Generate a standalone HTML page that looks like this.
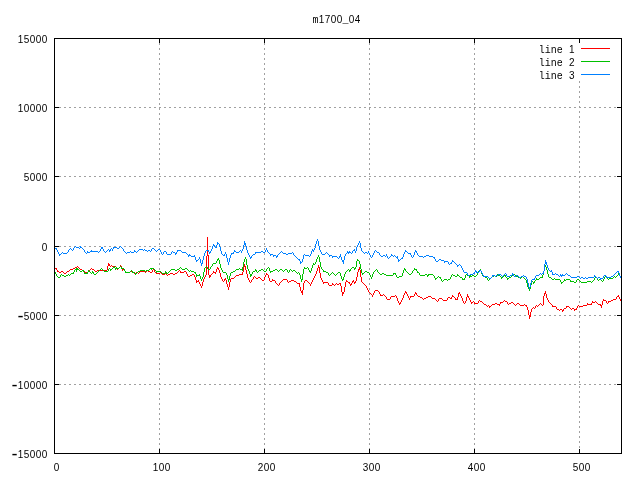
<!DOCTYPE html>
<html lang="en"><head><meta charset="utf-8"><title>m1700_04</title>
<style>html,body{margin:0;padding:0;background:#fff;overflow:hidden}svg{display:block}text{font-family:"Liberation Sans","DejaVu Sans",sans-serif;font-size:10.0px;fill:#000}.m{font-family:"Liberation Mono","DejaVu Sans Mono",monospace}.h{font-family:"Liberation Mono","DejaVu Sans Mono",monospace;font-size:16.0px}</style></head><body>
<svg width="640" height="480" viewBox="0 0 640 480">
<rect width="640" height="480" fill="#fff"/>
<g shape-rendering="crispEdges" stroke="#a0a0a0" stroke-width="1" stroke-dasharray="2 3" fill="none"><path d="M59 107.5H617"/><path d="M59 176.5H617"/><path d="M59 246.5H617"/><path d="M59 315.5H617"/><path d="M59 384.5H617"/><path d="M159.5 43V450"/><path d="M264.5 43V450"/><path d="M369.5 43V450"/><path d="M474.5 43V450"/><path d="M579.5 81V450"/></g>
<g shape-rendering="crispEdges" stroke-width="1" fill="none">
<path stroke="#ff0000" d="M56.5 268v2M57.5 270v2M107.5 266v4M108.5 263v3M109.5 264v2M116.5 267v2M120.5 265v2M121.5 266v3M122.5 269v2M124.5 269v2M125.5 271v2M152.5 270v2M154.5 270v2M165.5 272v2M166.5 273v2M180.5 271v2M186.5 272v2M187.5 274v2M194.5 275v2M195.5 277v3M196.5 280v3M198.5 280v2M199.5 282v2M200.5 284v2M201.5 286v2M202.5 282v4M203.5 279v3M204.5 277v2M205.5 275v2M206.5 256v19M207.5 237v19M208.5 255v20M209.5 275v3M210.5 275v2M213.5 271v2M215.5 272v2M216.5 269v3M217.5 267v2M218.5 268v2M219.5 270v3M220.5 273v4M221.5 277v2M222.5 279v2M224.5 279v2M225.5 278v2M226.5 280v4M227.5 284v3M228.5 287v3M229.5 282v5M230.5 279v3M242.5 272v3M243.5 267v5M244.5 264v3M245.5 266v4M246.5 270v4M247.5 274v4M248.5 278v2M249.5 280v2M251.5 280v2M253.5 277v2M264.5 277v3M265.5 275v2M266.5 273v2M268.5 275v3M269.5 278v3M272.5 279v2M275.5 281v2M279.5 283v2M287.5 280v2M299.5 283v4M300.5 287v4M301.5 291v2M302.5 290v5M303.5 283v7M304.5 281v2M310.5 284v2M311.5 282v2M312.5 280v2M313.5 278v2M314.5 276v2M315.5 274v2M316.5 271v3M317.5 268v3M318.5 265v3M319.5 267v6M320.5 273v5M321.5 278v2M322.5 280v2M323.5 282v2M328.5 283v2M332.5 283v2M340.5 283v3M341.5 286v6M342.5 292v4M343.5 292v2M344.5 287v5M345.5 282v5M346.5 280v2M349.5 282v2M350.5 284v2M351.5 283v2M352.5 281v2M353.5 280v2M354.5 282v2M355.5 281v2M356.5 277v4M357.5 272v5M358.5 269v3M359.5 267v3M360.5 270v7M361.5 277v5M366.5 286v2M367.5 288v2M368.5 290v2M372.5 295v2M373.5 293v2M374.5 291v2M379.5 292v2M380.5 294v2M386.5 297v2M390.5 297v2M396.5 296v2M397.5 298v3M398.5 301v2M399.5 303v2M400.5 302v2M401.5 300v2M402.5 298v2M403.5 295v3M404.5 293v2M405.5 291v2M406.5 292v2M407.5 294v2M408.5 296v2M409.5 298v2M410.5 296v2M414.5 294v2M415.5 292v2M416.5 293v2M438.5 299v2M447.5 298v2M451.5 297v2M452.5 295v2M455.5 298v2M457.5 297v3M458.5 293v4M459.5 292v2M460.5 294v2M461.5 296v2M462.5 298v3M463.5 301v2M465.5 301v2M466.5 297v4M467.5 294v3M468.5 296v2M469.5 298v2M470.5 300v2M471.5 302v2M474.5 302v2M478.5 301v2M489.5 306v2M499.5 304v2M500.5 302v2M507.5 302v2M526.5 305v2M527.5 307v3M528.5 310v5M529.5 315v4M530.5 312v5M531.5 309v3M535.5 306v2M543.5 296v9M544.5 293v3M545.5 291v3M546.5 294v4M547.5 298v2M548.5 300v2M552.5 305v2M556.5 307v2M562.5 310v2M563.5 309v2M566.5 306v2M574.5 309v2M576.5 308v2M577.5 306v2M587.5 303v2M591.5 303v2M592.5 301v2M600.5 304v2M601.5 305v3M602.5 301v4M603.5 299v2M606.5 301v2M608.5 301v2M616.5 297v2M618.5 295v2M619.5 297v2M620.5 299v2M111 265.5h1M77 266.5h1M110 266.5h1M112 266.5h4M54 267.5h1M75 267.5h2M78 267.5h1M119 267.5h1M55 268.5h1M73 268.5h2M79 268.5h1M91 268.5h1M118 268.5h1M70 269.5h3M80 269.5h2M90 269.5h1M92 269.5h2M117 269.5h1M123 269.5h1M153 269.5h1M69 270.5h1M82 270.5h2M89 270.5h1M94 270.5h1M97 270.5h10M147 270.5h1M179 270.5h1M58 271.5h1M61 271.5h2M67 271.5h2M84 271.5h1M88 271.5h1M95 271.5h2M130 271.5h2M140 271.5h5M146 271.5h1M148 271.5h2M178 271.5h1M184 271.5h2M59 272.5h2M63 272.5h1M66 272.5h1M85 272.5h3M126 272.5h4M132 272.5h2M136 272.5h2M139 272.5h1M145 272.5h1M150 272.5h2M155 272.5h1M160 272.5h1M177 272.5h1M181 272.5h3M214 272.5h1M64 273.5h2M134 273.5h2M138 273.5h1M156 273.5h4M161 273.5h1M170 273.5h3M175 273.5h2M212 273.5h1M162 274.5h3M168 274.5h2M173 274.5h2M192 274.5h2M211 274.5h1M239 274.5h3M267 274.5h1M167 275.5h1M190 275.5h2M236 275.5h3M188 276.5h2M235 276.5h1M254 276.5h1M234 277.5h1M255 277.5h1M258 277.5h2M231 278.5h3M256 278.5h2M260 278.5h1M252 279.5h1M261 279.5h1M283 279.5h4M262 280.5h2M273 280.5h2M282 280.5h1M291 280.5h3M305 280.5h2M197 281.5h1M223 281.5h1M270 281.5h2M281 281.5h1M289 281.5h2M294 281.5h2M307 281.5h1M347 281.5h1M250 282.5h1M280 282.5h1M288 282.5h1M296 282.5h1M308 282.5h1M324 282.5h4M348 282.5h1M362 282.5h1M276 283.5h1M297 283.5h2M309 283.5h1M336 283.5h1M339 283.5h1M363 283.5h1M277 284.5h1M333 284.5h1M335 284.5h1M337 284.5h2M364 284.5h1M278 285.5h1M329 285.5h3M334 285.5h1M365 285.5h1M375 290.5h3M378 291.5h1M369 292.5h1M370 293.5h1M371 294.5h1M383 294.5h1M381 295.5h2M384 295.5h1M395 295.5h1M417 295.5h1M385 296.5h1M391 296.5h4M411 296.5h3M418 296.5h2M428 296.5h3M453 296.5h1M617 296.5h1M420 297.5h2M426 297.5h2M431 297.5h1M448 297.5h2M454 297.5h1M422 298.5h1M424 298.5h2M432 298.5h3M439 298.5h3M450 298.5h1M387 299.5h3M423 299.5h1M435 299.5h1M442 299.5h1M456 299.5h1M613 299.5h3M436 300.5h1M443 300.5h4M479 300.5h1M504 300.5h1M604 300.5h2M611 300.5h2M437 301.5h1M473 301.5h1M480 301.5h2M503 301.5h1M505 301.5h2M595 301.5h1M609 301.5h2M472 302.5h1M482 302.5h1M501 302.5h2M511 302.5h2M549 302.5h1M593 302.5h2M596 302.5h1M464 303.5h1M475 303.5h3M483 303.5h1M495 303.5h2M509 303.5h2M513 303.5h1M517 303.5h2M540 303.5h1M550 303.5h1M597 303.5h1M607 303.5h1M484 304.5h2M492 304.5h3M497 304.5h2M508 304.5h1M514 304.5h1M516 304.5h1M519 304.5h1M524 304.5h1M539 304.5h1M541 304.5h1M551 304.5h1M588 304.5h3M598 304.5h2M486 305.5h1M488 305.5h1M491 305.5h1M515 305.5h1M520 305.5h4M525 305.5h1M536 305.5h1M538 305.5h1M542 305.5h1M578 305.5h1M583 305.5h4M487 306.5h1M490 306.5h1M537 306.5h1M553 306.5h3M567 306.5h2M579 306.5h4M533 307.5h1M569 307.5h1M532 308.5h1M534 308.5h1M564 308.5h2M570 308.5h1M572 308.5h2M557 309.5h2M560 309.5h2M571 309.5h1M575 309.5h1M559 310.5h1"/>
<path stroke="#00c000" d="M55.5 272v2M56.5 274v2M60.5 275v2M73.5 272v2M74.5 270v2M76.5 268v4M77.5 268v2M83.5 270v2M84.5 272v2M87.5 272v2M88.5 270v2M92.5 271v2M93.5 272v2M108.5 269v2M110.5 269v2M114.5 266v2M115.5 268v2M116.5 267v2M121.5 267v2M124.5 269v2M125.5 271v2M132.5 271v2M135.5 273v2M151.5 268v2M156.5 271v2M165.5 271v2M166.5 272v2M195.5 272v2M196.5 274v3M199.5 274v2M200.5 276v3M201.5 279v2M202.5 277v2M203.5 272v5M204.5 268v4M207.5 267v2M210.5 267v2M212.5 264v2M216.5 261v2M217.5 259v2M218.5 258v2M219.5 260v4M220.5 264v4M221.5 268v2M222.5 270v2M226.5 273v2M227.5 275v4M228.5 279v3M229.5 276v4M230.5 273v3M242.5 267v4M243.5 262v5M244.5 259v3M245.5 257v2M246.5 259v6M247.5 265v4M248.5 269v2M249.5 271v3M250.5 274v3M251.5 274v2M252.5 272v2M255.5 269v2M256.5 270v2M266.5 269v2M269.5 268v3M270.5 271v2M287.5 270v2M289.5 270v2M299.5 273v2M300.5 275v4M301.5 279v3M302.5 274v6M303.5 269v5M304.5 267v2M308.5 268v2M309.5 270v2M310.5 271v2M311.5 268v3M312.5 265v3M313.5 263v2M315.5 262v2M316.5 259v3M317.5 257v2M318.5 255v2M319.5 257v5M320.5 262v5M321.5 267v2M323.5 270v2M328.5 273v2M340.5 273v3M341.5 276v3M342.5 279v2M343.5 277v3M344.5 274v3M345.5 272v2M349.5 270v2M350.5 269v2M354.5 268v2M355.5 267v2M356.5 261v6M357.5 259v2M359.5 261v3M360.5 264v5M361.5 269v4M362.5 273v2M369.5 273v2M370.5 275v2M371.5 277v2M372.5 274v3M373.5 272v2M377.5 270v2M393.5 273v2M395.5 273v2M396.5 275v2M402.5 273v3M403.5 270v3M404.5 268v2M405.5 269v2M412.5 271v2M414.5 268v2M416.5 269v2M417.5 271v2M419.5 273v2M427.5 275v2M428.5 274v2M434.5 276v2M435.5 278v2M440.5 277v2M441.5 279v2M450.5 277v2M451.5 275v2M457.5 274v2M462.5 278v2M464.5 278v2M465.5 275v3M469.5 276v2M470.5 275v2M477.5 273v2M478.5 271v2M480.5 269v2M481.5 271v3M482.5 274v2M487.5 278v2M497.5 274v2M501.5 277v2M504.5 274v2M505.5 275v2M507.5 278v2M526.5 280v3M527.5 283v4M528.5 287v2M529.5 289v2M530.5 285v4M531.5 282v3M533.5 282v2M534.5 281v2M536.5 278v2M542.5 275v3M543.5 271v4M544.5 267v4M545.5 265v2M546.5 267v3M547.5 270v4M548.5 274v3M560.5 280v2M561.5 282v2M564.5 279v2M570.5 280v2M576.5 280v2M594.5 278v2M597.5 278v2M603.5 279v2M604.5 277v2M618.5 273v2M619.5 274v2M620.5 276v2M358 260.5h1M213 263.5h3M314 264.5h1M120 266.5h1M206 266.5h1M211 266.5h1M113 267.5h1M119 267.5h1M180 267.5h1M205 267.5h1M268 267.5h1M307 267.5h1M352 267.5h2M101 268.5h1M109 268.5h1M112 268.5h1M117 268.5h2M122 268.5h2M150 268.5h1M152 268.5h2M179 268.5h1M181 268.5h1M185 268.5h2M239 268.5h1M267 268.5h1M305 268.5h2M351 268.5h1M75 269.5h1M78 269.5h1M100 269.5h1M102 269.5h1M111 269.5h1M149 269.5h1M154 269.5h1M171 269.5h4M177 269.5h2M182 269.5h3M187 269.5h1M208 269.5h2M236 269.5h3M240 269.5h2M261 269.5h2M275 269.5h2M280 269.5h2M285 269.5h2M290 269.5h1M322 269.5h1M348 269.5h1M376 269.5h1M415 269.5h1M79 270.5h1M82 270.5h1M99 270.5h1M103 270.5h1M131 270.5h1M140 270.5h5M146 270.5h3M155 270.5h1M170 270.5h1M175 270.5h2M188 270.5h1M190 270.5h1M235 270.5h1M259 270.5h2M263 270.5h1M273 270.5h2M277 270.5h1M279 270.5h1M282 270.5h1M284 270.5h1M291 270.5h1M293 270.5h2M347 270.5h1M375 270.5h1M413 270.5h1M479 270.5h1M54 271.5h1M80 271.5h2M89 271.5h1M98 271.5h1M104 271.5h4M130 271.5h1M138 271.5h2M145 271.5h1M157 271.5h4M169 271.5h1M189 271.5h1M191 271.5h3M233 271.5h2M253 271.5h2M258 271.5h1M264 271.5h2M271 271.5h2M278 271.5h1M283 271.5h1M292 271.5h1M295 271.5h1M324 271.5h2M346 271.5h1M365 271.5h2M374 271.5h1M406 271.5h1M90 272.5h1M97 272.5h1M126 272.5h4M133 272.5h2M137 272.5h1M161 272.5h1M168 272.5h1M194 272.5h1M223 272.5h3M231 272.5h2M257 272.5h1M288 272.5h1M296 272.5h1M298 272.5h1M326 272.5h2M332 272.5h1M338 272.5h2M364 272.5h1M367 272.5h2M378 272.5h1M407 272.5h1M418 272.5h1M71 273.5h2M85 273.5h2M91 273.5h1M96 273.5h1M136 273.5h1M162 273.5h3M167 273.5h1M297 273.5h1M331 273.5h1M333 273.5h1M337 273.5h1M363 273.5h1M379 273.5h1M382 273.5h2M394 273.5h1M408 273.5h1M411 273.5h1M61 274.5h1M68 274.5h1M70 274.5h1M94 274.5h2M330 274.5h1M334 274.5h1M336 274.5h1M380 274.5h2M384 274.5h2M409 274.5h2M425 274.5h2M429 274.5h4M452 274.5h1M466 274.5h1M513 274.5h2M62 275.5h2M66 275.5h2M69 275.5h1M197 275.5h2M329 275.5h1M335 275.5h1M386 275.5h7M420 275.5h5M433 275.5h1M453 275.5h2M458 275.5h1M467 275.5h2M472 275.5h2M476 275.5h1M494 275.5h1M498 275.5h2M512 275.5h1M515 275.5h1M617 275.5h1M57 276.5h1M64 276.5h2M399 276.5h3M438 276.5h1M455 276.5h2M459 276.5h1M471 276.5h1M474 276.5h2M483 276.5h2M492 276.5h2M495 276.5h2M500 276.5h1M503 276.5h1M511 276.5h1M516 276.5h2M522 276.5h1M605 276.5h1M614 276.5h1M616 276.5h1M58 277.5h2M397 277.5h2M437 277.5h1M439 277.5h1M460 277.5h2M485 277.5h2M491 277.5h1M502 277.5h1M506 277.5h1M509 277.5h2M518 277.5h2M521 277.5h1M523 277.5h1M540 277.5h2M549 277.5h2M595 277.5h2M606 277.5h1M613 277.5h1M615 277.5h1M436 278.5h1M490 278.5h1M508 278.5h1M520 278.5h1M524 278.5h1M539 278.5h1M551 278.5h1M554 278.5h1M607 278.5h1M609 278.5h4M444 279.5h3M448 279.5h2M463 279.5h1M489 279.5h1M525 279.5h1M537 279.5h2M552 279.5h2M555 279.5h5M566 279.5h4M577 279.5h2M599 279.5h2M608 279.5h1M443 280.5h1M447 280.5h1M488 280.5h1M535 280.5h1M565 280.5h1M579 280.5h1M593 280.5h1M598 280.5h1M601 280.5h1M442 281.5h1M532 281.5h1M563 281.5h1M571 281.5h3M580 281.5h1M587 281.5h4M592 281.5h1M602 281.5h1M562 282.5h1M574 282.5h2M581 282.5h6M591 282.5h1"/>
<path stroke="#0080ff" d="M56.5 248v2M57.5 250v2M58.5 252v2M59.5 254v2M68.5 250v2M73.5 248v2M80.5 246v2M84.5 250v2M87.5 251v2M91.5 250v2M100.5 249v2M101.5 247v2M102.5 247v2M103.5 249v2M109.5 250v2M110.5 249v2M112.5 249v2M113.5 247v2M123.5 249v2M134.5 250v2M151.5 249v2M160.5 250v2M161.5 252v2M163.5 252v2M166.5 252v2M171.5 252v2M175.5 253v2M176.5 252v2M177.5 250v2M188.5 255v2M189.5 254v2M194.5 255v2M195.5 257v3M196.5 260v2M199.5 257v2M200.5 259v4M201.5 263v3M202.5 260v4M203.5 256v4M204.5 253v3M205.5 251v2M208.5 250v2M209.5 252v2M210.5 251v2M211.5 249v2M212.5 246v3M213.5 244v2M214.5 245v2M216.5 245v3M217.5 242v3M219.5 244v3M220.5 247v4M221.5 251v3M224.5 254v2M225.5 252v2M226.5 254v4M227.5 258v4M228.5 262v3M229.5 258v4M230.5 255v3M231.5 253v2M233.5 252v2M234.5 250v2M241.5 251v2M242.5 249v2M243.5 245v4M244.5 241v4M245.5 243v3M246.5 246v4M247.5 250v3M248.5 253v2M249.5 255v2M250.5 257v2M251.5 256v2M255.5 252v2M265.5 250v2M266.5 248v2M267.5 250v2M270.5 254v2M273.5 255v2M276.5 256v2M277.5 255v2M293.5 253v2M299.5 259v2M300.5 261v3M302.5 259v3M303.5 255v4M310.5 254v2M311.5 251v3M312.5 249v2M313.5 250v2M314.5 248v2M315.5 244v4M316.5 241v3M317.5 239v2M318.5 241v5M319.5 246v4M320.5 250v2M321.5 252v2M329.5 255v2M332.5 256v2M339.5 256v2M340.5 254v3M341.5 257v3M342.5 260v2M343.5 260v4M344.5 256v4M345.5 254v2M347.5 251v2M348.5 252v2M349.5 251v2M352.5 251v2M354.5 249v2M355.5 251v2M356.5 247v4M357.5 245v2M358.5 243v2M359.5 241v2M360.5 243v5M361.5 248v3M368.5 251v2M369.5 253v2M370.5 255v2M372.5 255v2M373.5 253v2M374.5 251v2M379.5 253v2M386.5 254v2M387.5 256v2M391.5 254v2M397.5 256v3M398.5 259v3M402.5 257v2M403.5 254v3M404.5 252v2M405.5 250v2M410.5 253v2M411.5 255v2M413.5 255v2M414.5 252v3M415.5 250v2M416.5 251v2M417.5 253v2M434.5 257v2M435.5 259v2M444.5 261v2M448.5 262v2M451.5 262v2M452.5 260v2M457.5 265v2M461.5 266v2M462.5 268v2M463.5 270v2M467.5 273v2M474.5 272v2M475.5 270v2M476.5 271v2M479.5 270v2M481.5 271v2M482.5 273v2M483.5 275v2M492.5 275v2M506.5 274v2M512.5 273v2M513.5 274v2M526.5 277v2M527.5 279v4M528.5 283v4M529.5 287v2M530.5 283v4M531.5 280v3M534.5 278v2M535.5 276v2M543.5 271v3M544.5 264v7M545.5 260v4M546.5 262v3M547.5 265v3M548.5 268v2M551.5 270v2M552.5 272v3M560.5 274v2M561.5 275v2M562.5 274v2M594.5 275v2M600.5 278v2M603.5 276v2M606.5 276v2M618.5 271v2M619.5 273v3M620.5 276v2M218 243.5h1M75 246.5h1M120 246.5h1M54 247.5h1M74 247.5h1M76 247.5h3M81 247.5h1M114 247.5h3M119 247.5h1M121 247.5h1M215 247.5h1M55 248.5h1M70 248.5h1M79 248.5h1M82 248.5h1M111 248.5h1M117 248.5h2M122 248.5h1M152 248.5h2M69 249.5h1M71 249.5h1M83 249.5h1M108 249.5h1M139 249.5h4M144 249.5h1M154 249.5h1M158 249.5h2M72 250.5h1M107 250.5h1M138 250.5h1M143 250.5h1M145 250.5h2M148 250.5h2M155 250.5h1M157 250.5h1M178 250.5h3M206 250.5h2M240 250.5h1M353 250.5h1M375 250.5h1M90 251.5h1M92 251.5h6M99 251.5h1M104 251.5h1M106 251.5h1M124 251.5h1M130 251.5h1M135 251.5h1M137 251.5h1M147 251.5h1M150 251.5h1M156 251.5h1M164 251.5h2M172 251.5h1M181 251.5h1M235 251.5h1M239 251.5h1M261 251.5h2M281 251.5h1M362 251.5h1M376 251.5h1M406 251.5h1M62 252.5h1M67 252.5h1M85 252.5h1M88 252.5h2M98 252.5h1M105 252.5h1M125 252.5h1M127 252.5h3M131 252.5h3M136 252.5h1M173 252.5h2M182 252.5h4M236 252.5h3M256 252.5h5M263 252.5h2M268 252.5h1M280 252.5h1M282 252.5h1M292 252.5h1M326 252.5h1M350 252.5h1M363 252.5h1M365 252.5h2M377 252.5h2M407 252.5h1M61 253.5h1M63 253.5h4M86 253.5h1M126 253.5h1M186 253.5h1M232 253.5h1M269 253.5h1M279 253.5h1M283 253.5h3M288 253.5h4M325 253.5h1M327 253.5h1M346 253.5h1M351 253.5h1M364 253.5h1M367 253.5h1M408 253.5h2M60 254.5h1M162 254.5h1M167 254.5h4M187 254.5h1M222 254.5h1M253 254.5h2M271 254.5h2M278 254.5h1M286 254.5h2M304 254.5h1M322 254.5h3M328 254.5h1M190 255.5h1M223 255.5h1M252 255.5h1M274 255.5h2M294 255.5h1M305 255.5h4M330 255.5h2M380 255.5h1M383 255.5h2M392 255.5h1M394 255.5h1M418 255.5h1M426 255.5h3M191 256.5h3M295 256.5h1M309 256.5h1M333 256.5h4M381 256.5h2M385 256.5h1M390 256.5h1M393 256.5h1M395 256.5h1M419 256.5h4M424 256.5h2M429 256.5h4M296 257.5h1M337 257.5h1M371 257.5h1M389 257.5h1M396 257.5h1M412 257.5h1M423 257.5h1M433 257.5h1M297 258.5h1M338 258.5h1M388 258.5h1M401 258.5h1M198 259.5h1M298 259.5h1M400 259.5h1M439 259.5h2M197 260.5h1M399 260.5h1M438 260.5h1M441 260.5h3M436 261.5h2M445 261.5h3M453 261.5h1M301 262.5h1M454 262.5h1M450 263.5h1M455 263.5h1M449 264.5h1M456 264.5h1M459 264.5h1M458 265.5h1M460 265.5h1M480 270.5h1M549 270.5h1M550 271.5h1M617 271.5h1M464 272.5h3M477 272.5h2M616 272.5h1M473 273.5h1M505 273.5h1M540 273.5h1M542 273.5h1M555 273.5h1M566 273.5h1M615 273.5h1M470 274.5h3M498 274.5h3M504 274.5h1M539 274.5h1M541 274.5h1M553 274.5h2M556 274.5h2M565 274.5h1M567 274.5h1M614 274.5h1M468 275.5h2M493 275.5h2M496 275.5h2M501 275.5h1M503 275.5h1M510 275.5h2M516 275.5h2M523 275.5h1M536 275.5h3M558 275.5h1M563 275.5h2M568 275.5h2M604 275.5h2M613 275.5h1M484 276.5h4M495 276.5h1M502 276.5h1M507 276.5h3M514 276.5h2M518 276.5h1M521 276.5h2M524 276.5h2M559 276.5h1M570 276.5h1M577 276.5h2M595 276.5h1M611 276.5h2M488 277.5h1M491 277.5h1M519 277.5h2M571 277.5h6M579 277.5h1M581 277.5h2M585 277.5h1M588 277.5h6M596 277.5h1M598 277.5h2M607 277.5h4M489 278.5h2M580 278.5h1M583 278.5h2M586 278.5h2M597 278.5h1M601 278.5h2M532 279.5h2"/>
</g>
<g shape-rendering="crispEdges" stroke="#000" stroke-width="1" fill="none"><rect x="54.5" y="38.5" width="567" height="415"/><path d="M55 107.5h4M621 107.5h-4"/><path d="M55 176.5h4M621 176.5h-4"/><path d="M55 246.5h4M621 246.5h-4"/><path d="M55 315.5h4M621 315.5h-4"/><path d="M55 384.5h4M621 384.5h-4"/><path d="M159.5 453v-4M159.5 39v4"/><path d="M264.5 453v-4M264.5 39v4"/><path d="M369.5 453v-4M369.5 39v4"/><path d="M474.5 453v-4M474.5 39v4"/><path d="M579.5 453v-4M579.5 39v4"/></g>
<g shape-rendering="crispEdges" stroke-width="1" fill="none"><path d="M581 48.5H610" stroke="#ff0000"/><path d="M581 61.5H610" stroke="#00c000"/><path d="M581 74.5H610" stroke="#0080ff"/></g>
<g style="opacity:.999"><text transform="scale(1,1.15)" x="315.5 321.5 327.5 333.5 339.5 345.5 351.5 357.5" y="20.000" text-anchor="middle"><tspan class="m">m</tspan>1700<tspan class="m">_</tspan>04</text><text transform="scale(1,1.15)" x="20.5 26.5 32.5 38.5 44.5" y="37.391" text-anchor="middle">15000</text><text transform="scale(1,1.15)" x="20.5 26.5 32.5 38.5 44.5" y="97.391" text-anchor="middle">10000</text><text transform="scale(1,1.15)" x="26.5 32.5 38.5 44.5" y="157.391" text-anchor="middle">5000</text><text transform="scale(1,1.15)" x="44.5" y="218.261" text-anchor="middle">0</text><text transform="scale(1,1.15)" x="20.5 26.5 32.5 38.5 44.5" y="278.261" text-anchor="middle"><tspan class="h" dy="1.8">-</tspan><tspan dy="-1.8">5000</tspan></text><text transform="scale(1,1.15)" x="14.5 20.5 26.5 32.5 38.5 44.5" y="338.261" text-anchor="middle"><tspan class="h" dy="1.8">-</tspan><tspan dy="-1.8">10000</tspan></text><text transform="scale(1,1.15)" x="14.5 20.5 26.5 32.5 38.5 44.5" y="398.261" text-anchor="middle"><tspan class="h" dy="1.8">-</tspan><tspan dy="-1.8">15000</tspan></text><text transform="scale(1,1.15)" x="56.5" y="409.565" text-anchor="middle">0</text><text transform="scale(1,1.15)" x="155.5 161.5 167.5" y="409.565" text-anchor="middle">100</text><text transform="scale(1,1.15)" x="260.5 266.5 272.5" y="409.565" text-anchor="middle">200</text><text transform="scale(1,1.15)" x="365.5 371.5 377.5" y="409.565" text-anchor="middle">300</text><text transform="scale(1,1.15)" x="470.5 476.5 482.5" y="409.565" text-anchor="middle">400</text><text transform="scale(1,1.15)" x="575.5 581.5 587.5" y="409.565" text-anchor="middle">500</text><text transform="scale(1,1.15)" x="541.75 547.75 553.75 559.75 565.75 571.75" y="46.087" text-anchor="middle"><tspan class="m">line </tspan>1</text><text transform="scale(1,1.15)" x="541.75 547.75 553.75 559.75 565.75 571.75" y="57.391" text-anchor="middle"><tspan class="m">line </tspan>2</text><text transform="scale(1,1.15)" x="541.75 547.75 553.75 559.75 565.75 571.75" y="68.696" text-anchor="middle"><tspan class="m">line </tspan>3</text></g>
</svg></body></html>
